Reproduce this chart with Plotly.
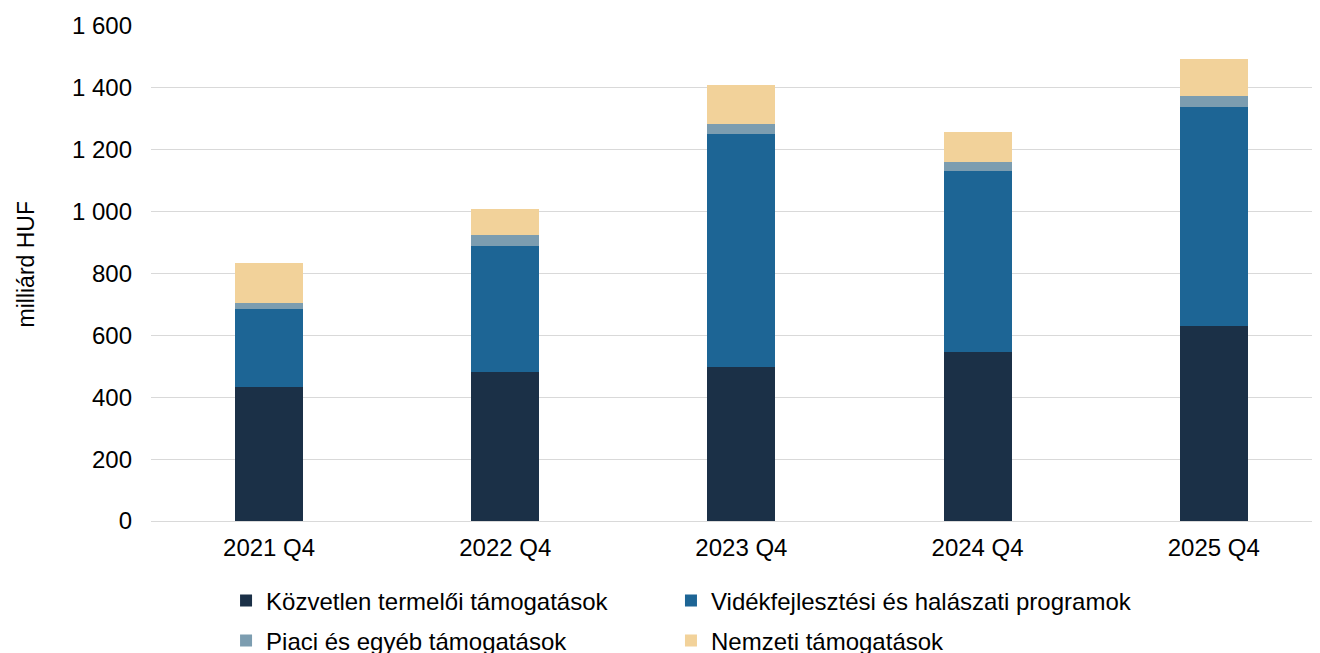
import plotly.graph_objects as go

categories = ["2021 Q4", "2022 Q4", "2023 Q4", "2024 Q4", "2025 Q4"]
kozvetlen = [432, 483, 497, 545, 630]
videk = [252, 406, 754, 587, 708]
piaci = [22, 35, 31, 28, 35]
nemzeti = [129, 84, 127, 98, 119]

series = [
    ("Közvetlen termelői támogatások", kozvetlen, "#1b3047", "legend"),
    ("Vidékfejlesztési és halászati programok", videk, "#1d6595", "legend2"),
    ("Piaci és egyéb támogatások", piaci, "#7c9db0", "legend3"),
    ("Nemzeti támogatások", nemzeti, "#f2d29a", "legend4"),
]

fig = go.Figure()
for name, vals, col, leg in series:
    fig.add_trace(go.Bar(x=list(range(len(categories))), y=vals, name=name, legend=leg,
                         marker=dict(color=col, line=dict(width=0))))

font = "Liberation Sans, Arial, sans-serif"
lc = dict(orientation="h", xanchor="left", yanchor="middle",
          font=dict(size=24, family=font), bgcolor="rgba(0,0,0,0)")
col1, col2 = 0.0642, 0.4448
row1, row2 = -0.1616, -0.2424
fig.update_layout(
    barmode="stack",
    bargap=0.712,
    width=1312, height=645,
    margin=dict(l=143, r=0, t=18, b=132, autoexpand=False),
    paper_bgcolor="white", plot_bgcolor="white",
    separators=", ",
    font=dict(family=font, size=24, color="#000000"),
    showlegend=True,
    legend=dict(x=col1, y=row1, **lc),
    legend2=dict(x=col2, y=row1, **lc),
    legend3=dict(x=col1, y=row2, **lc),
    legend4=dict(x=col2, y=row2, **lc),
    xaxis=dict(tickmode="array", tickvals=list(range(len(categories))), ticktext=categories,
               range=[-0.5, 4.45], showgrid=False, showline=False, zeroline=False,
               ticks="", tickfont=dict(size=24), ticklabelstandoff=10),
    yaxis=dict(range=[0, 1600], dtick=200, tickformat=",d", showgrid=True,
               gridcolor="#d9d9d9", gridwidth=1, zeroline=True, zerolinecolor="#d9d9d9",
               zerolinewidth=1, showline=False, ticks="", ticklabelstandoff=18,
               tickfont=dict(size=24)),
    annotations=[dict(text="milliárd HUF", textangle=-90, xref="paper", yref="paper",
                      x=0, y=0.5, xanchor="center", yanchor="middle",
                      xshift=-126, yshift=9, showarrow=False,
                      font=dict(size=23, family=font, color="#000000"))],
)

fig.write_html("out.html")
